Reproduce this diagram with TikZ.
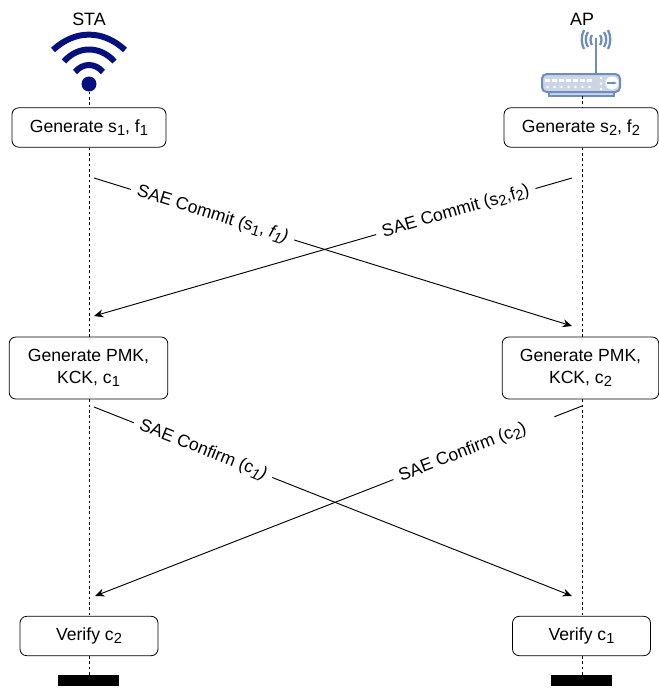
\documentclass[tikz,border=0pt]{standalone}
\usepackage{fontspec}
\setmainfont{Liberation Sans}
\usepackage{tikz}
\usetikzlibrary{positioning}
\usetikzlibrary{arrows.meta}
\definecolor{wifiblue}{HTML}{05107F}
\definecolor{routerblue}{HTML}{6C8EBF}
\definecolor{routerfill}{HTML}{CBD5E6}
\newcommand{\lowsub}[1]{\raisebox{-0.35ex}{\fontsize{11}{11}\selectfont #1}}
\tikzstyle{arrow} = [-{Stealth[length=7pt,width=6pt]},line width=0.7pt]
\tikzstyle{life} = [dash pattern=on 2pt off 2pt,line width=0.6pt]
\begin{document}
\begin{tikzpicture}[x=0.75pt,y=-0.75pt,
  node distance = 3mm,
  box/.style = {draw,rounded corners=5pt,line width=0.6pt,fill=white,align=center,inner sep=0pt,minimum height=29.5pt,font=\fontsize{13.2}{16.5}\selectfont},
  lab/.style = {fill=white,sloped,inner xsep=5pt,inner ysep=1pt,font=\fontsize{13.2}{15}\selectfont},
  title/.style = {font=\fontsize{13.4}{15}\selectfont,inner sep=0pt},
  bar/.style = {fill=black,inner sep=0pt,minimum width=46pt,minimum height=8pt}
]
\useasboundingbox (0,0) rectangle (659,689);
 % boxes
 \node[box,minimum width=115.5pt] (b1) at (89,127.5) {Generate s\lowsub{1}, f\lowsub{1}};
 \node[box,minimum width=115.5pt] (a1) at (581,127.5) {Generate s\lowsub{2}, f\lowsub{2}};
 \node[box,minimum width=119pt,minimum height=46.5pt] (b2) at (88.5,368) {Generate PMK,\\KCK, c\lowsub{1}};
 \node[box,minimum width=117.5pt,minimum height=46.5pt] (a2) at (580.5,368) {Generate PMK,\\KCK, c\lowsub{2}};
 \node[box,minimum width=103.5pt] (b3) at (89,636) {Verify c\lowsub{2}};
 \node[box,minimum width=103.5pt] (a3) at (581.5,636) {Verify c\lowsub{1}};
 \node[bar] (e1) at (88.5,680.5) {};
 \node[bar] (e2) at (581.5,680.5) {};
 \node[title] (sta) at (89,19) {STA};
 \node[title] (ap) at (582,19) {AP};
 % wifi icon
 \begin{scope}[wifiblue,line width=4.5pt]
 \draw (53,50) .. controls (75,29.5) and (103,29.5) .. (125,50);
 \draw (64,61.5) .. controls (78,45.5) and (100,45.5) .. (114.5,61.5);
 \draw (75,72) .. controls (83,62.7) and (95,62.7) .. (103,72);
 \end{scope}
 \node[circle,fill=wifiblue,inner sep=0pt,minimum size=11.25pt] (dot) at (89,84) {};
 % router icon
 \begin{scope}[routerblue]
 \draw[line width=1.9pt] (596,38) -- (596,74);
 \draw[line width=1.7pt] (592,35) .. controls (590,38) and (590,42) .. (592,45);
 \draw[line width=1.7pt] (588,32) .. controls (585,37) and (585,42) .. (588,47);
 \draw[line width=1.7pt] (584,30) .. controls (581,36) and (581,43) .. (584,49);
 \draw[line width=1.7pt] (600,35) .. controls (602,38) and (602,42) .. (600,45);
 \draw[line width=1.7pt] (604,32) .. controls (607,37) and (607,42) .. (604,47);
 \draw[line width=1.7pt] (608,30) .. controls (611,36) and (611,43) .. (608,49);
 \draw[fill=routerfill,line width=1pt] (549,92) rectangle (614,96);
 \draw[fill=routerfill,line width=1.5pt,rounded corners=3.5pt] (542,74) rectangle (620,92);
 \foreach \x in {545,552,...,590} {
   \fill[white] (\x,79) rectangle +(5,2.5);
   \fill[white] (\x+2.5,87) circle (1.4);
 }
 \fill[white] (601,78) circle (1.4) (601,83.5) circle (1.4) (601,89) circle (1.4);
 \fill[white] (612,83) circle (6.5);
 \draw[-{Stealth[length=3pt]},line width=0.9pt] (607,83) -- (617,83);
 \end{scope}
 % lifelines
 \coordinate (s1) at (94,178);
 \coordinate (t1) at (572,326);
 \coordinate (s2) at (572,178);
 \coordinate (t2) at (94,316);
 \coordinate (s3) at (94,407);
 \coordinate (t3) at (572,596);
 \coordinate (s4) at (582,406);
 \coordinate (t4) at (95,596);
 \coordinate (top) at (582,96);
 \draw[life] (dot) -- (b1.north -| dot);
 \draw[life] (b1.south -| dot) -- (b2.north -| dot);
 \draw[life] (b2.south -| dot) -- (b3.north -| dot);
 \draw[life] (b3.south -| dot) -- (e1.north -| dot);
 \draw[life] (top) -- (a1.north -| top);
 \draw[life] (a1.south -| top) -- (a2.north -| top);
 \draw[life] (a2.south -| top) -- (a3.north -| top);
 \draw[life] (a3.south -| top) -- (e2.north -| top);
 % messages
 \draw[arrow] (s1) -- node[lab,pos=0.248] {SAE Commit (s\lowsub{1}, \emph{f\lowsub{1})}} (t1);
 \draw[arrow] (s2) -- node[lab,pos=0.243] {SAE Commit (s\lowsub{2},f\lowsub{2})} (t2);
 \draw[arrow] (s3) -- node[lab,pos=0.228] {SAE Confirm (c\emph{\lowsub{1})}} (t3);
 \draw[arrow] (s4) -- node[lab,pos=0.222] {SAE Confirm (c\lowsub{2})\rule{18pt}{0pt}} (t4);
\end{tikzpicture}
\end{document}
